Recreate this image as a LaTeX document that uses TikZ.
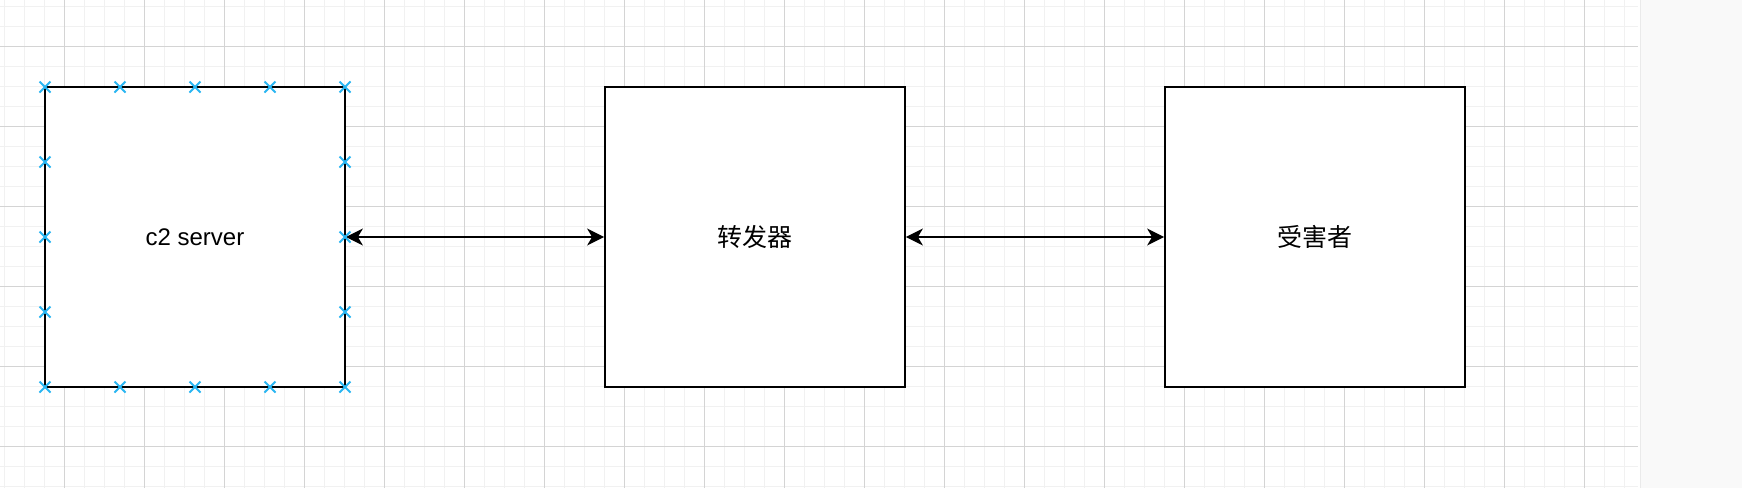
\documentclass[tikz,border=0pt]{standalone}
\usepackage{fontspec}
\setmainfont{Liberation Sans}
\newfontfamily\cjk{Noto Sans CJK SC}
\usetikzlibrary{arrows.meta}

\definecolor{gridminor}{HTML}{F1F1F1}
\definecolor{gridmajor}{HTML}{D4D4D4}
\definecolor{panel}{HTML}{F9F9F9}
\definecolor{handle}{HTML}{29B6F2}

\tikzset{
  box/.style={draw=black,line width=1.8pt,fill=white,minimum width=300pt,minimum height=300pt,font=\fontsize{24}{28}\selectfont},
  link/.style={line width=1.6pt,{Stealth[length=17pt,width=17pt,inset=5pt]}-{Stealth[length=17pt,width=17pt,inset=5pt]}},
  handle/.style={draw=handle,line width=1.8pt}
}

\begin{document}
\begin{tikzpicture}[x=1pt,y=-1pt]
\useasboundingbox (0,0) rectangle (1742,488);
% The background
\fill[white] (0,0) rectangle (1640,488);
\fill[panel] (1640,0) rectangle (1742,488);
\draw[gridmajor!50,line width=1pt] (1640,0) -- (1640,488);
% The thin grid
\foreach \gx in {4,24,...,1624}
  \draw[gridminor,line width=1pt] (\gx,0) -- (\gx,488);
\foreach \gy in {6,26,...,486}
  \draw[gridminor,line width=1pt] (0,\gy) -- (1638,\gy);
% The thick grid
\foreach \gx in {64,144,...,1584}
  \draw[gridmajor,line width=1pt] (\gx,0) -- (\gx,488);
\foreach \gy in {46,126,...,446}
  \draw[gridmajor,line width=1pt] (0,\gy) -- (1638,\gy);

% The boxes
\node[box] (c2) at (195,237) {c2 server};
\node[box] (relay) at (755,237) {\cjk\fontsize{25}{29}\selectfont 转发器};
\node[box] (victim) at (1315,237) {\cjk\fontsize{25}{29}\selectfont 受害者};

% The links
\draw[link] (c2.east) -- (relay.west);
\draw[link] (relay.east) -- (victim.west);

% The handles of the selected box
\foreach \hx in {45,120,195,270,345}
  \foreach \hy in {87,387}
  {
    \draw[handle] (\hx-5.5,\hy-5.5) -- (\hx+5.5,\hy+5.5);
    \draw[handle] (\hx-5.5,\hy+5.5) -- (\hx+5.5,\hy-5.5);
  }
\foreach \hx in {45,345}
  \foreach \hy in {162,237,312}
  {
    \draw[handle] (\hx-5.5,\hy-5.5) -- (\hx+5.5,\hy+5.5);
    \draw[handle] (\hx-5.5,\hy+5.5) -- (\hx+5.5,\hy-5.5);
  }
\end{tikzpicture}
\end{document}
